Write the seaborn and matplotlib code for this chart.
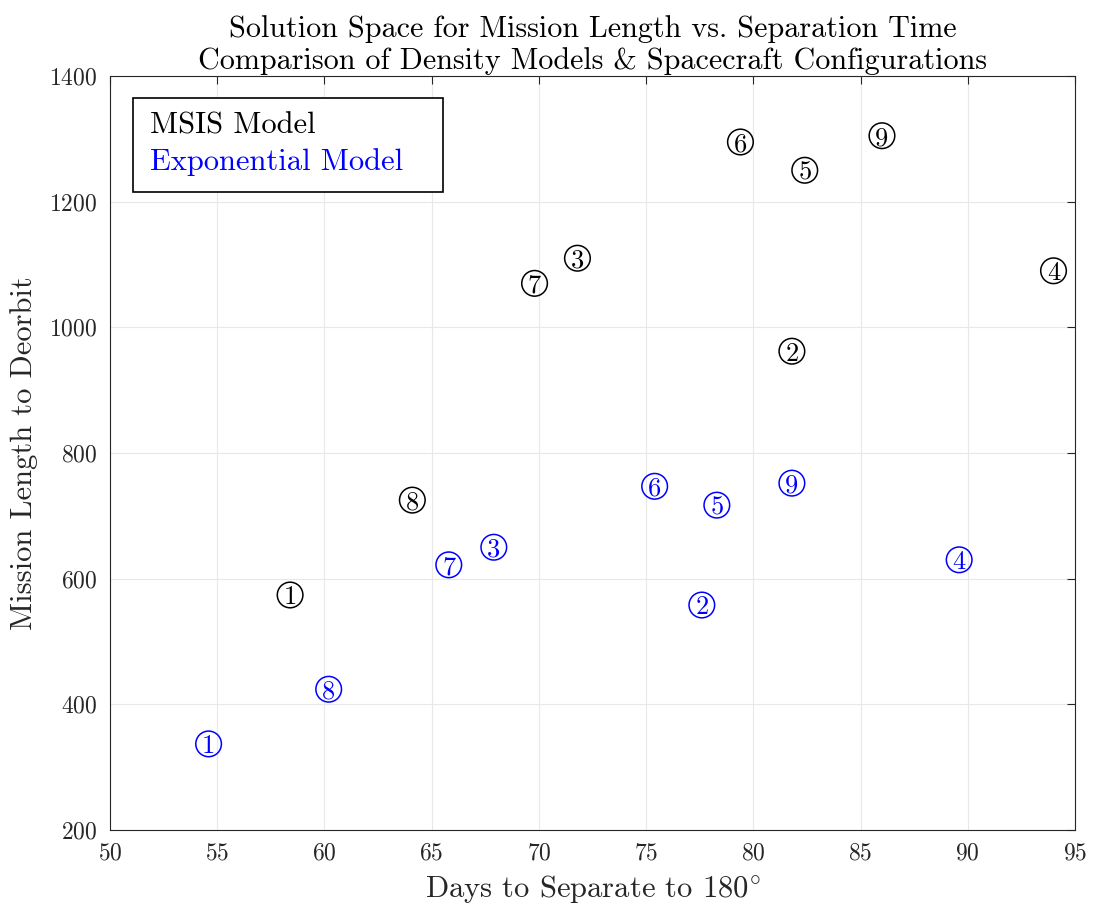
import matplotlib
matplotlib.use("Agg")
import matplotlib.pyplot as plt
import seaborn as sns
import pandas as pd
import numpy as np
from matplotlib.patches import Rectangle

# Data
labels = ["1", "2", "3", "4", "5", "6", "7", "8", "9"]
msis_days = [58.4, 81.8, 71.8, 94.0, 82.4, 79.4, 69.8, 64.1, 86.0]
msis_len = [574, 962, 1110, 1090, 1250, 1295, 1070, 725, 1305]
exp_days = [54.6, 77.6, 67.9, 89.6, 78.3, 75.4, 65.8, 60.2, 81.8]
exp_len = [337, 558, 650, 630, 717, 747, 622, 424, 752]
models = ["MSIS Model", "Exponential Model"]
colors = {"MSIS Model": "black", "Exponential Model": "blue"}

df = pd.concat([
    pd.DataFrame({"days": msis_days, "length": msis_len, "label": labels, "model": models[0]}),
    pd.DataFrame({"days": exp_days, "length": exp_len, "label": labels, "model": models[1]}),
], ignore_index=True)

sns.set_style("white")
plt.rcParams["font.family"] = ["cmr10", "DejaVu Serif"]
plt.rcParams["mathtext.fontset"] = "cm"
plt.rcParams["axes.formatter.use_mathtext"] = True
plt.rcParams["axes.unicode_minus"] = False

fig = plt.figure(figsize=(10.93, 9.05), dpi=100)
ax = fig.add_axes([0.1006, 0.0829, 0.8829, 0.8331])

sns.scatterplot(data=df, x="days", y="length", hue="model", palette=colors,
                marker="o", s=340, linewidth=1.1, legend=False, ax=ax)
# hollow markers with coloured edges
for coll in ax.collections:
    fc = coll.get_facecolors()
    coll.set_edgecolors(fc)
    coll.set_facecolors("none")

for _, r in df.iterrows():
    ax.text(r["days"], r["length"], r["label"], color=colors[r["model"]],
            ha="center", va="center_baseline", fontsize=19)

ax.set_xlim(50, 95)
ax.set_ylim(200, 1400)
ax.set_xticks(np.arange(50, 96, 5))
ax.set_yticks(np.arange(200, 1401, 200))
ax.grid(True, color="#e8e8e8", linewidth=0.8)
ax.set_axisbelow(True)
for sp in ax.spines.values():
    sp.set_color("#262626")
    sp.set_linewidth(0.8)
ax.tick_params(direction="in", length=6, width=0.8, color="#262626",
               labelsize=17, labelcolor="#262626", top=True, right=True,
               labeltop=False, labelright=False, pad=9)

ax.set_xlabel(r"Days to Separate to $180^{\circ}$", fontsize=22, color="#262626",
              labelpad=6)
ax.set_ylabel("Mission Length to Deorbit", fontsize=22, color="#262626",
              labelpad=8)
ax.set_title("Solution Space for Mission Length vs. Separation Time\n"
             "Comparison of Density Models & Spacecraft Configurations",
             fontsize=21.7, color="black", pad=5, linespacing=1.2)

# legend-like text box
ax.add_patch(Rectangle((0.0238, 0.846), 0.321, 0.125, transform=ax.transAxes,
                       facecolor="white", edgecolor="black",
                       linewidth=1.2, zorder=2.5))
ax.text(0.0415, 0.9377, "MSIS Model", transform=ax.transAxes, fontsize=22,
        color="black", va="center_baseline", ha="left", zorder=3)
ax.text(0.0415, 0.890, "Exponential Model", transform=ax.transAxes, fontsize=22,
        color="blue", va="center_baseline", ha="left", zorder=3)

fig.savefig("out.png", dpi=100)
